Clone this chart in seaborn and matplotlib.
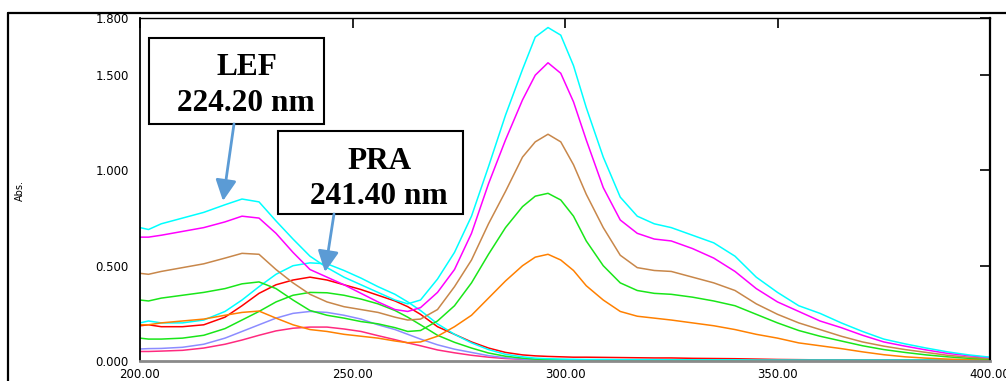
import numpy as np
import pandas as pd
import matplotlib
matplotlib.use("Agg")
import matplotlib.pyplot as plt
import seaborn as sns
from matplotlib.patches import Rectangle
from matplotlib.lines import Line2D

# ---------------- data ----------------
wl = [200, 202, 205, 210, 215, 220, 224, 228, 232, 236, 240, 244, 248, 252, 256, 260, 263, 266,
      270, 274, 278, 282, 286, 290, 293, 296, 299, 302, 305, 309, 313, 317, 321, 325, 330, 335,
      340, 345, 350, 355, 360, 365, 370, 375, 380, 385, 390, 395, 400]

lef_cyan = [0.70, 0.69, 0.72, 0.75, 0.78, 0.82, 0.85, 0.835, 0.735, 0.64, 0.55, 0.49, 0.44, 0.40, 0.36, 0.32, 0.30, 0.32,
            0.43, 0.57, 0.76, 1.02, 1.29, 1.53, 1.70, 1.75, 1.71, 1.55, 1.33, 1.07, 0.86, 0.76, 0.72, 0.70, 0.66, 0.62,
            0.55, 0.44, 0.36, 0.29, 0.25, 0.20, 0.155, 0.115, 0.09, 0.068, 0.048, 0.032, 0.02]
lef_magenta = [0.65, 0.65, 0.66, 0.68, 0.70, 0.73, 0.76, 0.75, 0.67, 0.57, 0.48, 0.44, 0.40, 0.355, 0.31, 0.27, 0.26, 0.28,
               0.36, 0.48, 0.67, 0.93, 1.16, 1.37, 1.50, 1.565, 1.51, 1.36, 1.16, 0.91, 0.74, 0.67, 0.64, 0.63, 0.59, 0.54,
               0.47, 0.38, 0.31, 0.26, 0.21, 0.175, 0.135, 0.10, 0.078, 0.058, 0.04, 0.028, 0.018]
lef_brown = [0.46, 0.455, 0.47, 0.49, 0.51, 0.54, 0.565, 0.56, 0.48, 0.41, 0.35, 0.31, 0.285, 0.27, 0.255, 0.23, 0.215, 0.22,
             0.27, 0.39, 0.53, 0.72, 0.89, 1.07, 1.15, 1.19, 1.15, 1.03, 0.875, 0.70, 0.555, 0.49, 0.475, 0.47, 0.44, 0.41,
             0.37, 0.30, 0.245, 0.20, 0.165, 0.13, 0.10, 0.078, 0.06, 0.045, 0.03, 0.02, 0.013]
lef_green = [0.32, 0.315, 0.33, 0.345, 0.36, 0.38, 0.405, 0.415, 0.38, 0.32, 0.265, 0.24, 0.225, 0.207, 0.195, 0.175, 0.155, 0.16,
             0.21, 0.29, 0.41, 0.56, 0.70, 0.81, 0.865, 0.88, 0.845, 0.76, 0.63, 0.50, 0.41, 0.37, 0.355, 0.35, 0.335, 0.315,
             0.29, 0.245, 0.20, 0.16, 0.13, 0.105, 0.08, 0.06, 0.045, 0.032, 0.022, 0.014, 0.01]
lef_orange = [0.19, 0.19, 0.20, 0.21, 0.22, 0.24, 0.255, 0.262, 0.225, 0.19, 0.165, 0.155, 0.14, 0.13, 0.12, 0.105, 0.096, 0.10,
              0.13, 0.18, 0.24, 0.33, 0.42, 0.50, 0.545, 0.56, 0.53, 0.475, 0.395, 0.32, 0.26, 0.235, 0.225, 0.215, 0.20, 0.185,
              0.165, 0.14, 0.12, 0.095, 0.08, 0.065, 0.048, 0.033, 0.022, 0.015, 0.01, 0.007, 0.005]

pra_cyan = [0.20, 0.21, 0.20, 0.20, 0.215, 0.26, 0.32, 0.39, 0.455, 0.50, 0.515, 0.51, 0.475, 0.435, 0.39, 0.35, 0.31, 0.265,
            0.195, 0.14, 0.095, 0.06, 0.035, 0.022, 0.015, 0.012, 0.01, 0.009, 0.008, 0.008, 0.007, 0.007, 0.007, 0.006, 0.006, 0.006,
            0.006, 0.005, 0.005, 0.005, 0.005, 0.005, 0.005, 0.005, 0.005, 0.005, 0.005, 0.005, 0.005]
pra_red = [0.185, 0.19, 0.18, 0.18, 0.19, 0.23, 0.29, 0.355, 0.40, 0.425, 0.44, 0.425, 0.40, 0.375, 0.345, 0.315, 0.285, 0.245,
           0.18, 0.14, 0.10, 0.068, 0.045, 0.032, 0.027, 0.024, 0.022, 0.02, 0.02, 0.019, 0.018, 0.017, 0.016, 0.016, 0.014, 0.013,
           0.012, 0.01, 0.008, 0.007, 0.006, 0.006, 0.005, 0.005, 0.005, 0.004, 0.004, 0.004, 0.004]
pra_green = [0.12, 0.115, 0.115, 0.12, 0.135, 0.17, 0.215, 0.26, 0.31, 0.345, 0.36, 0.358, 0.345, 0.325, 0.30, 0.265, 0.23, 0.19,
             0.135, 0.098, 0.068, 0.042, 0.025, 0.015, 0.01, 0.008, 0.007, 0.006, 0.006, 0.005, 0.005, 0.005, 0.005, 0.005, 0.004, 0.004,
             0.004, 0.004, 0.004, 0.004, 0.004, 0.004, 0.004, 0.004, 0.004, 0.004, 0.004, 0.004, 0.004]
pra_blue = [0.063, 0.065, 0.066, 0.072, 0.088, 0.12, 0.155, 0.19, 0.225, 0.25, 0.26, 0.255, 0.24, 0.22, 0.19, 0.165, 0.14, 0.115,
            0.085, 0.062, 0.045, 0.028, 0.017, 0.01, 0.007, 0.006, 0.005, 0.005, 0.005, 0.004, 0.004, 0.004, 0.004, 0.004, 0.004, 0.004,
            0.004, 0.004, 0.004, 0.004, 0.004, 0.004, 0.004, 0.004, 0.004, 0.004, 0.004, 0.004, 0.004]
pra_pink = [0.05, 0.05, 0.052, 0.056, 0.068, 0.088, 0.11, 0.135, 0.158, 0.172, 0.178, 0.178, 0.168, 0.155, 0.133, 0.112, 0.095, 0.08,
            0.058, 0.043, 0.03, 0.02, 0.013, 0.009, 0.007, 0.006, 0.005, 0.005, 0.005, 0.004, 0.004, 0.004, 0.004, 0.004, 0.004, 0.004,
            0.004, 0.004, 0.004, 0.004, 0.004, 0.004, 0.004, 0.004, 0.004, 0.004, 0.004, 0.004, 0.004]

series_names = ["PRA pink", "PRA blue", "PRA green", "PRA red", "PRA cyan",
                "LEF orange", "LEF green", "LEF brown", "LEF magenta", "LEF cyan"]
series_values = [pra_pink, pra_blue, pra_green, pra_red, pra_cyan,
                 lef_orange, lef_green, lef_brown, lef_magenta, lef_cyan]
series_colors = ["#FF2A7F", "#8C8CFF", "#19E619", "#FF0000", "#00FFFF",
                 "#FF8000", "#19E619", "#C8874A", "#FF00FF", "#00FFFF"]

xticks = [200, 250, 300, 350, 400]
xtick_labels = ["200.00", "250.00", "300.00", "350.00", "400.00"]
yticks = [0.0, 0.5, 1.0, 1.5, 1.8]
ytick_labels = ["0.000", "0.500", "1.000", "1.500", "1.800"]

# ---------------- figure ----------------
sns.set_theme(style="white")
plt.rcParams["font.family"] = ["DejaVu Sans"]
plt.rcParams["text.color"] = "black"
plt.rcParams["axes.labelcolor"] = "black"
plt.rcParams["xtick.color"] = "black"
plt.rcParams["ytick.color"] = "black"

W, H = 1006, 381
fig = plt.figure(figsize=(W / 100, H / 100), dpi=100)
fig.patch.set_facecolor("white")
ax = fig.add_axes([140 / W, 1 - 361 / H, (990 - 140) / W, (361 - 18) / H])
ax.set_facecolor("white")

df = pd.DataFrame({
    "wl": np.tile(wl, len(series_names)),
    "abs": np.concatenate([np.asarray(v, float) for v in series_values]),
    "series": np.repeat(series_names, len(wl)),
})
sns.lineplot(data=df, x="wl", y="abs", hue="series", hue_order=series_names,
             palette=series_colors, estimator=None, sort=False, legend=False,
             linewidth=1.1, ax=ax)

ax.set_xlim(200, 400)
ax.set_ylim(0, 1.8)
ax.set_xticks(xticks)
ax.set_xticklabels(xtick_labels)
ax.set_yticks(yticks)
ax.set_yticklabels(ytick_labels)
ax.tick_params(direction="in", length=7, width=1.2, top=True, right=True,
               labelsize=8.5, colors="black", labelcolor="black", pad=8)
ax.tick_params(axis="x", pad=5)
ax.set_xlabel("")
ax.set_ylabel("")

for side in ["left", "top", "right"]:
    ax.spines[side].set_color("black")
ax.spines["left"].set_linewidth(1.3)
ax.spines["top"].set_linewidth(1.0)
ax.spines["right"].set_linewidth(1.6)
ax.spines["bottom"].set_color("#8a8a8a")
ax.spines["bottom"].set_linewidth(2.0)

# axis labels
fig.text(20 / W, 1 - 190 / H, "Abs.", rotation=90, fontsize=7, ha="center", va="center", color="black")
fig.text(567 / W, 1 - 385 / H, "nm", fontsize=7, ha="center", va="center", color="black")

# outer frame
fig.add_artist(Line2D([8 / W, 1.0], [1 - 12.5 / H, 1 - 12.5 / H], transform=fig.transFigure,
                      color="black", lw=1.6))
fig.add_artist(Line2D([8 / W, 8 / W], [1 - 12.5 / H, 0.0], transform=fig.transFigure,
                      color="black", lw=1.6))

# annotation boxes
def px2data(x, y):
    return 200 + (x - 140) / 4.25, (361 - y) / 190.5

serif = ["Liberation Serif", "DejaVu Serif"]
for (x0, y0, x1, y1) in [(149, 38, 324, 124), (278, 131, 463, 214)]:
    dx0, dy1 = px2data(x0, y1)
    dx1, dy0 = px2data(x1, y0)
    ax.add_patch(Rectangle((dx0, dy1), dx1 - dx0, dy0 - dy1, facecolor="white",
                           edgecolor="black", lw=1.5, zorder=5, clip_on=False))

for txt, (x, y) in [("LEF", (247, 68)), ("224.20 nm", (246, 104)),
                    ("PRA", (380, 162)), ("241.40 nm", (379, 197))]:
    dx, dy = px2data(x, y)
    ax.text(dx, dy, txt, family=serif, fontweight="bold", fontsize=22.5,
            ha="center", va="center", zorder=6, color="black")

arrow_kw = dict(arrowstyle="-|>,head_length=0.9,head_width=0.45", color="#5B9BD5",
                lw=2.0, shrinkA=0, shrinkB=0, mutation_scale=14)
for (sx, sy), (ex, ey) in [((234, 124), (223, 201)), ((334, 214), (325, 272))]:
    ax.annotate("", xy=px2data(ex, ey), xytext=px2data(sx, sy),
                arrowprops=arrow_kw, zorder=7, annotation_clip=False)

fig.savefig("out.png", dpi=100)
